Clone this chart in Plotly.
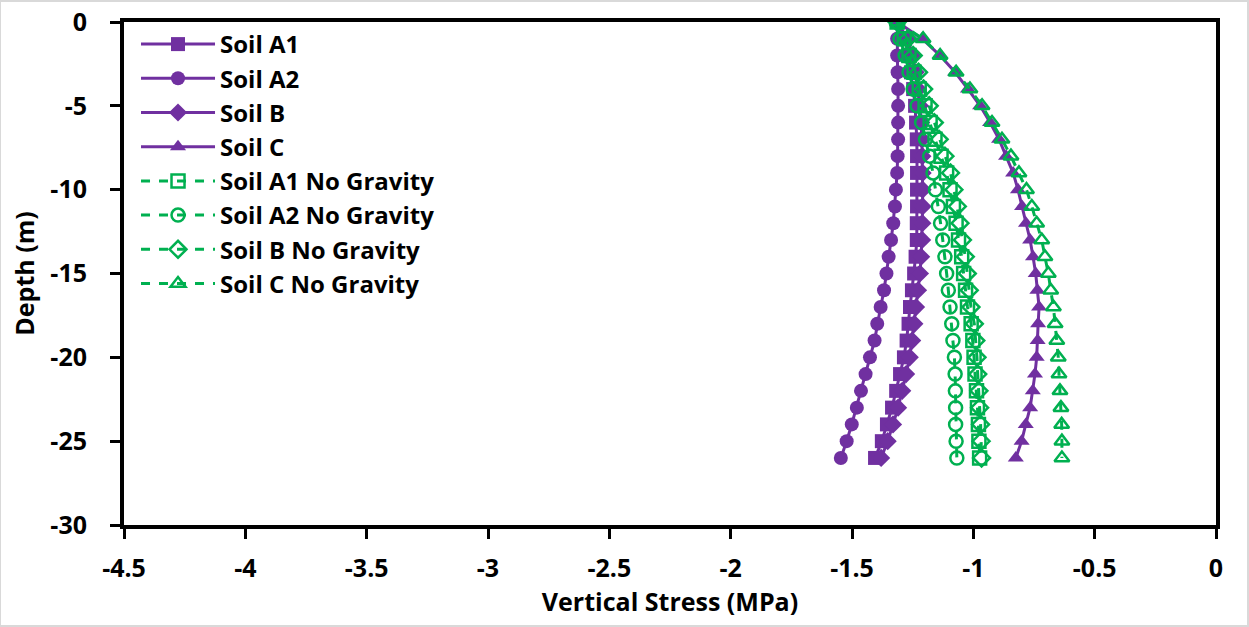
import plotly.graph_objects as go

depth = [0, -1, -2, -3, -4, -5, -6, -7, -8, -9, -10, -11, -12, -13, -14, -15, -16,
         -17, -18, -19, -20, -21, -22, -23, -24, -25, -26]

soil_a1 = [-1.314, -1.281, -1.269, -1.257, -1.248, -1.240, -1.236, -1.233, -1.232, -1.232,
           -1.232, -1.232, -1.233, -1.233, -1.238, -1.244, -1.253, -1.261, -1.267, -1.275,
           -1.286, -1.302, -1.318, -1.335, -1.356, -1.377, -1.405]
soil_a2 = [-1.314, -1.314, -1.314, -1.312, -1.310, -1.310, -1.310, -1.310, -1.312, -1.314,
           -1.319, -1.323, -1.330, -1.339, -1.349, -1.358, -1.368, -1.382, -1.396, -1.407,
           -1.426, -1.444, -1.463, -1.480, -1.501, -1.522, -1.546]
soil_b = [-1.314, -1.270, -1.252, -1.238, -1.228, -1.220, -1.215, -1.212, -1.210, -1.209,
          -1.209, -1.209, -1.210, -1.211, -1.215, -1.220, -1.228, -1.236, -1.243, -1.252,
          -1.262, -1.277, -1.293, -1.310, -1.331, -1.353, -1.380]
soil_c = [-1.314, -1.211, -1.137, -1.075, -1.022, -0.972, -0.931, -0.894, -0.865, -0.836,
          -0.816, -0.799, -0.783, -0.766, -0.754, -0.743, -0.736, -0.729, -0.733, -0.735,
          -0.739, -0.746, -0.755, -0.766, -0.784, -0.801, -0.825]
soil_a1_ng = [-1.314, -1.285, -1.265, -1.244, -1.223, -1.199, -1.178, -1.158, -1.133, -1.110,
              -1.096, -1.082, -1.071, -1.061, -1.048, -1.040, -1.032, -1.024, -1.009, -1.002,
              -0.997, -0.993, -0.987, -0.983, -0.979, -0.977, -0.974]
soil_a2_ng = [-1.314, -1.302, -1.281, -1.265, -1.248, -1.232, -1.213, -1.197, -1.180, -1.166,
              -1.156, -1.144, -1.135, -1.126, -1.117, -1.110, -1.103, -1.096, -1.089, -1.084,
              -1.078, -1.075, -1.074, -1.073, -1.073, -1.071, -1.068]
soil_b_ng = [-1.314, -1.270, -1.248, -1.226, -1.205, -1.182, -1.161, -1.141, -1.117, -1.094,
             -1.080, -1.066, -1.055, -1.045, -1.033, -1.025, -1.017, -1.010, -0.996, -0.990,
             -0.985, -0.982, -0.977, -0.974, -0.970, -0.968, -0.966]
soil_c_ng = [-1.314, -1.207, -1.137, -1.071, -1.014, -0.964, -0.923, -0.882, -0.845, -0.812,
             -0.781, -0.759, -0.739, -0.718, -0.705, -0.691, -0.681, -0.670, -0.663, -0.656,
             -0.650, -0.647, -0.643, -0.639, -0.636, -0.635, -0.635]

x_ticks = [-4.5, -4, -3.5, -3, -2.5, -2, -1.5, -1, -0.5, 0]
y_ticks = [0, -5, -10, -15, -20, -25, -30]

PURPLE = "#7030A0"
GREEN = "#00B050"
FONT = "Open Sans"

fig = go.Figure()

solid = [("Soil A1", soil_a1, "square"), ("Soil A2", soil_a2, "circle"),
         ("Soil B", soil_b, "diamond"), ("Soil C", soil_c, "triangle-up")]
dashed = [("Soil A1 No Gravity", soil_a1_ng, "square-open"),
          ("Soil A2 No Gravity", soil_a2_ng, "circle-open"),
          ("Soil B No Gravity", soil_b_ng, "diamond-open"),
          ("Soil C No Gravity", soil_c_ng, "triangle-up-open")]

for name, vals, sym in solid:
    fig.add_trace(go.Scatter(x=vals, y=depth, name=name, mode="lines+markers",
                             line=dict(color=PURPLE, width=3),
                             marker=dict(symbol=sym, size=14, color=PURPLE)))
for name, vals, sym in dashed:
    fig.add_trace(go.Scatter(x=vals, y=depth, name=name, mode="lines+markers",
                             line=dict(color=GREEN, width=3, dash="dash"),
                             marker=dict(symbol=sym, size=13, color=GREEN,
                                         line=dict(color=GREEN, width=2.5))))

fig.update_layout(
    width=1249, height=627,
    margin=dict(l=124, r=33, t=22, b=102, autoexpand=False),
    paper_bgcolor="white", plot_bgcolor="white",
    font=dict(family=FONT, color="black", size=24),
    showlegend=True,
    legend=dict(x=0.011, y=1.0, xanchor="left", yanchor="top",
                bgcolor="rgba(0,0,0,0)", font=dict(family=FONT, size=24, color="black",
                                                   weight="bold"),
                tracegroupgap=0, itemwidth=74),
    xaxis=dict(range=[-4.5, 0], tickvals=x_ticks, ticktext=[f"{v:g}" for v in x_ticks],
               showgrid=False, zeroline=False, showline=True, linecolor="black",
               linewidth=4, mirror=True, ticks="outside", ticklen=10, tickwidth=3,
               tickcolor="black", ticklabelstandoff=8, automargin=False,
               tickfont=dict(family=FONT, size=25, weight="bold"),
               title=dict(text="<b>Vertical Stress (MPa)</b>",
                          font=dict(family=FONT, size=25), standoff=8)),
    yaxis=dict(range=[-30, 0], tickvals=y_ticks, ticktext=[f"{v:g}" for v in y_ticks],
               showgrid=False, zeroline=False, showline=True, linecolor="black",
               linewidth=4, mirror=True, ticks="outside", ticklen=10, tickwidth=3,
               tickcolor="black", ticklabelstandoff=18, automargin=False,
               tickfont=dict(family=FONT, size=25, weight="bold"),
               title=dict(text="<b>Depth (m)</b>", font=dict(family=FONT, size=25),
                          standoff=10)),
    shapes=[dict(type="rect", xref="paper", yref="paper",
                 x0=-124 / 1092, x1=1 + 32 / 1092, y0=-101 / 503, y1=1 + 21 / 503,
                 line=dict(color="#D9D9D9", width=2), layer="below")],
)

fig.write_html("out.html")
